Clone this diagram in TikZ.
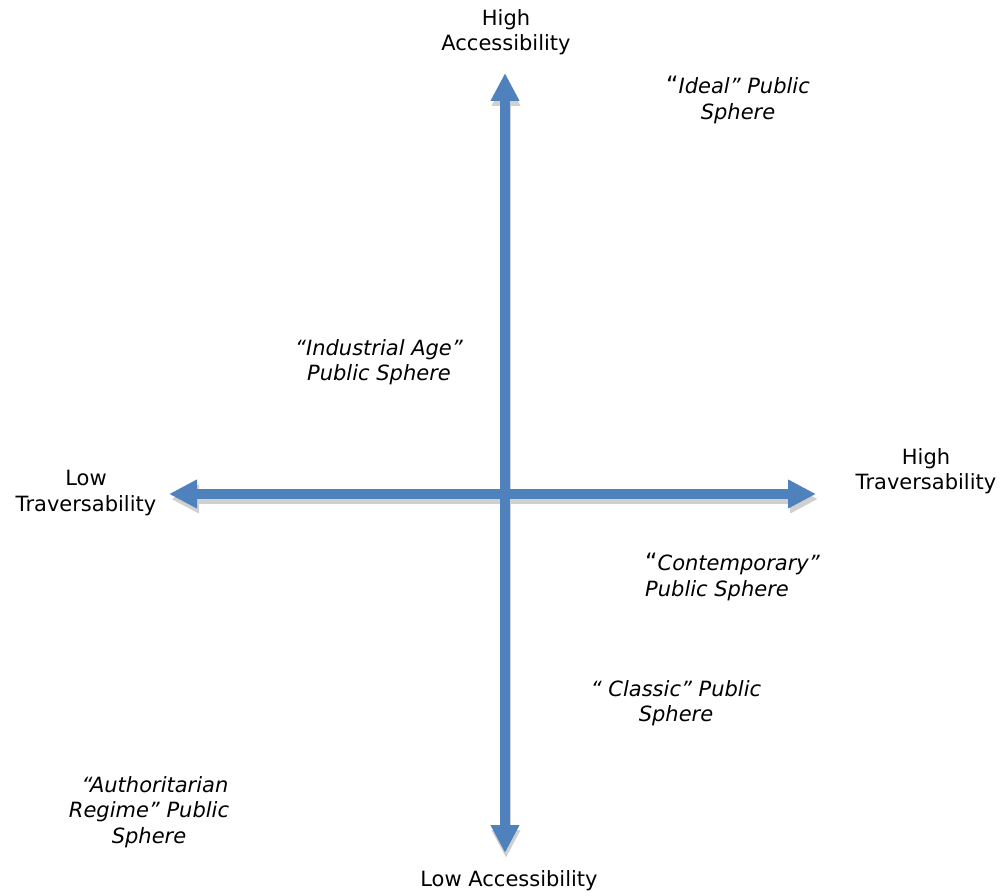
\documentclass[tikz,border=0pt]{standalone}
\usepackage{fontspec}
\setmainfont{DejaVu Sans}
\usetikzlibrary{arrows.meta}
\definecolor{axisblue}{HTML}{4F81BD}
\definecolor{shadowgray}{HTML}{D0D0D0}
\newcommand*{\shaft}{10pt}
\newcommand*{\headw}{27pt}
\newcommand*{\headl}{28pt}
\newcommand*{\labelfont}{\fontsize{21}{25.5}\selectfont}
\newcommand*{\openq}{{\upshape\fontsize{24}{25.5}\selectfont “}}
\tikzset{
  axis/.style={draw=axisblue, line width=\shaft,
    arrows={Triangle[width=\headw,length=\headl,fill=axisblue]-Triangle[width=\headw,length=\headl,fill=axisblue]}},
  axisshadow/.style={draw=shadowgray, line width=\shaft,
    transform canvas={shift={(#1,-5pt)}},
    arrows={Triangle[width=\headw,length=\headl,fill=shadowgray]-Triangle[width=\headw,length=\headl,fill=shadowgray]}},
  axislabel/.style={align=center, inner sep=0pt, font=\labelfont},
  sphere/.style={align=center, inner sep=0pt, font=\labelfont\itshape}
}

\begin{document}
\begin{tikzpicture}[x=1pt, y=-1pt]
    \useasboundingbox (0,0) rectangle (1004,896);
    % axis ends
    \coordinate (acchigh) at (505, 73);
    \coordinate (acclow)  at (505,853);
    \coordinate (travlow) at (169,494);
    \coordinate (travhigh) at (816,494);
    % shadows first
    \draw [axisshadow=2pt] (travlow) -- (travhigh);
    \draw [axisshadow=1pt] (acclow) -- (acchigh);
    \draw [axis] (travlow) -- (travhigh);
    \draw [axis] (acclow) -- (acchigh);
    % axis labels
    \node [axislabel] (lblacchigh)  at (506, 32) {High\\Accessibility};
    \node [axislabel] (lblacclow)   at (509,881) {Low Accessibility};
    \node [axislabel] (lbltravlow)  at ( 86,493) {Low\\Traversability};
    \node [axislabel] (lbltravhigh) at (926,471) {High\\Traversability};
    % spheres
    \node [sphere] (ideal)        at (738,100) {\openq Ideal” Public\\Sphere};
    \node [sphere] (industrial)   at (379,362) {“Industrial Age”\\Public Sphere};
    \node [sphere, align=left, anchor=west] (contemporary) at (645,577) {\openq Contemporary”\\Public Sphere};
    \node [sphere] (classic)      at (676,703) {“ Classic” Public\\Sphere};
    \node [sphere] (authoritarian) at (149,812) {\hspace*{12pt}“Authoritarian\\Regime” Public\\Sphere};
\end{tikzpicture}
\end{document}
